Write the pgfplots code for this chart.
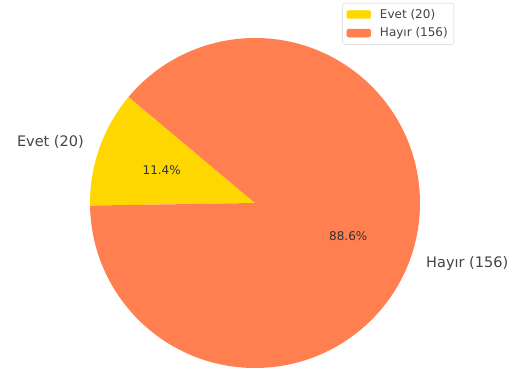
\documentclass[border=0pt]{standalone}
\usepackage{pgfplots}
\pgfplotsset{compat=1.18}
\usepackage{pgfplotstable}
\usepackage{fontspec}
\setmainfont{DejaVu Sans}
\definecolor{evet}{HTML}{FFD700}
\definecolor{hayir}{HTML}{FF7F50}
\definecolor{lbl}{HTML}{444444}
\definecolor{pct}{HTML}{333333}

\pgfplotstableread{
label count
Evet 20
Hayir 156
}\piedata

\begin{document}
\begin{tikzpicture}
\pgfplotstablegetelem{0}{count}\of\piedata \edef\va{\pgfplotsretval}
\pgfplotstablegetelem{1}{count}\of\piedata \edef\vb{\pgfplotsretval}
\pgfmathsetmacro\tot{\va+\vb}
\pgfmathsetmacro\fa{\va/\tot}
\pgfmathsetmacro\fb{\vb/\tot}
\pgfmathsetmacro\sa{140}
\pgfmathsetmacro\ea{\sa+360*\fa}
\pgfmathsetmacro\eb{\ea+360*\fb}
\pgfmathsetmacro\ma{(\sa+\ea)/2}
\pgfmathsetmacro\mb{(\ea+\eb)/2}
\pgfmathsetmacro\pa{100*\fa}
\pgfmathsetmacro\pb{100*\fb}
\def\cx{255}\def\cy{171}\def\R{165}
\begin{axis}[
  scale only axis, width=519bp, height=374bp,
  xmin=0, xmax=519, ymin=0, ymax=374,
  hide axis, clip=false,
  legend style={at={(axis cs:454,371)}, anchor=north east,
    draw=black!18, rounded corners=2bp, fill=white,
    font=\fontsize{12bp}{14bp}\selectfont, text=lbl,
    inner xsep=4bp, inner ysep=4bp, row sep=4bp, column sep=7bp,
    cells={anchor=west}},
  legend cell align=left,
]
\addlegendimage{legend image code/.code={\fill[evet] (0bp,-4bp) rectangle (24bp,4bp);}}
\addlegendentry{Evet (\va)}
\addlegendimage{legend image code/.code={\fill[hayir] (0bp,-4bp) rectangle (24bp,4bp);}}
\addlegendentry{Hayır (\vb)}

\fill[evet] (axis cs:\cx,\cy) -- (axis cs:{\cx+\R*cos(\sa)},{\cy+\R*sin(\sa)})
  arc[start angle=\sa, end angle=\ea, radius=\R bp] -- cycle;
\fill[hayir] (axis cs:\cx,\cy) -- (axis cs:{\cx+\R*cos(\ea)},{\cy+\R*sin(\ea)})
  arc[start angle=\ea, end angle=\eb, radius=\R bp] -- cycle;

\node[anchor=east, text=lbl, font=\fontsize{14.5bp}{17bp}\selectfont, inner sep=0pt]
  at (axis cs:{\cx+1.1*\R*cos(\ma)},{\cy+1.1*\R*sin(\ma)}) {Evet (\va)};
\node[anchor=west, text=lbl, font=\fontsize{14.5bp}{17bp}\selectfont, inner sep=0pt]
  at (axis cs:{\cx+1.1*\R*cos(\mb)},{\cy+1.1*\R*sin(\mb)}) {Hayır (\vb)};
\node[text=pct, font=\fontsize{12bp}{14bp}\selectfont, inner sep=0pt]
  at (axis cs:{\cx+0.6*\R*cos(\ma)},{\cy+0.6*\R*sin(\ma)}) {\pgfmathprintnumber[fixed,fixed zerofill,precision=1,assume math mode=true]{\pa}\%};
\node[text=pct, font=\fontsize{12bp}{14bp}\selectfont, inner sep=0pt]
  at (axis cs:{\cx+0.6*\R*cos(\mb)},{\cy+0.6*\R*sin(\mb)}) {\pgfmathprintnumber[fixed,fixed zerofill,precision=1,assume math mode=true]{\pb}\%};
\end{axis}
\pgfresetboundingbox
\useasboundingbox (current axis.south west) rectangle (current axis.north east);
\end{tikzpicture}
\end{document}
